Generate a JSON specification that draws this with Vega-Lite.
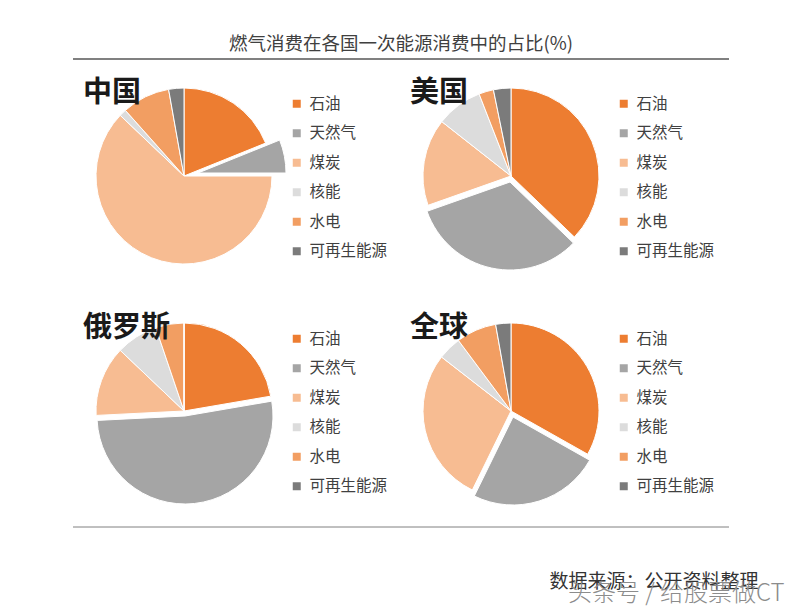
{
  "$schema": "https://vega.github.io/schema/vega-lite/v6.json",
  "background": "white",
  "padding": {"left": 72, "top": 34, "right": 0, "bottom": 0},
  "config": {
    "view": {"stroke": null},
    "font": "Noto Sans CJK SC",
    "legend": {
      "title": null, "orient": "right", "offset": -6, "padding": 0,
      "symbolType": "square", "symbolSize": 64, "symbolStrokeWidth": 0,
      "labelFontSize": 15.5, "labelColor": "#404040", "labelOffset": 5, "rowPadding": 12.5,
      "labelFont": "Noto Sans CJK SC"
    }
  },
  "datasets": {
    "energy": [
      {"country": "中国", "type": "石油", "share": 18.9},
      {"country": "中国", "type": "天然气", "share": 6.1},
      {"country": "中国", "type": "煤炭", "share": 62.1},
      {"country": "中国", "type": "核能", "share": 1.3},
      {"country": "中国", "type": "水电", "share": 8.8},
      {"country": "中国", "type": "可再生能源", "share": 2.8},
      {"country": "美国", "type": "石油", "share": 37.2},
      {"country": "美国", "type": "天然气", "share": 32.4},
      {"country": "美国", "type": "煤炭", "share": 16.0},
      {"country": "美国", "type": "核能", "share": 8.5},
      {"country": "美国", "type": "水电", "share": 2.7},
      {"country": "美国", "type": "可再生能源", "share": 3.2},
      {"country": "俄罗斯", "type": "石油", "share": 22.3},
      {"country": "俄罗斯", "type": "天然气", "share": 51.9},
      {"country": "俄罗斯", "type": "煤炭", "share": 12.9},
      {"country": "俄罗斯", "type": "核能", "share": 7.7},
      {"country": "俄罗斯", "type": "水电", "share": 5.2},
      {"country": "俄罗斯", "type": "可再生能源", "share": 0},
      {"country": "全球", "type": "石油", "share": 33.2},
      {"country": "全球", "type": "天然气", "share": 24.1},
      {"country": "全球", "type": "煤炭", "share": 28.3},
      {"country": "全球", "type": "核能", "share": 4.3},
      {"country": "全球", "type": "水电", "share": 7.4},
      {"country": "全球", "type": "可再生能源", "share": 2.8}
    ]
  },
  "title": {"text": "头条号 / 给股票做CT", "orient": "bottom", "anchor": "end", "dx": 26, "offset": -10, "fontSize": 24, "fontWeight": 300, "color": "#8c8c8c"},
  "spacing": 19,
  "resolve": {"scale": {"color": "independent"}, "legend": {"color": "independent"}},
  "vconcat": [
    {
      "width": 656, "height": 6,
      "data": {"values": [{}]},
      "title": {"text": "燃气消费在各国一次能源消费中的占比(%)", "fontSize": 18.5, "fontWeight": "normal", "color": "#404040", "anchor": "middle", "offset": 0},
      "mark": {"type": "rule", "color": "#808080", "strokeWidth": 2},
      "encoding": {"y": {"datum": 0, "type": "quantitative", "scale": {"domain": [0, 1]}, "axis": null}}
    },
    {
      "bounds": "flush",
      "columns": 2,
      "spacing": {"row": 75, "column": 105},
      "resolve": {"scale": {"color": "independent"}, "legend": {"color": "independent"}},
      "concat": [
        {
          "width": 222, "height": 160,
          "data": {"name": "energy"},
          "title": {"text": "中国", "anchor": "start", "frame": "group", "fontSize": 29, "fontWeight": "bold", "color": "#1a1a1a", "dx": 10, "offset": -22},
          "transform": [
            {"filter": "datum.country === '中国'"},
            {"calculate": "indexof(['石油','天然气','煤炭','核能','水电','可再生能源'], datum.type)", "as": "k"},
            {"stack": "share", "groupby": [], "sort": [{"field": "k"}], "offset": "normalize", "as": ["t0", "t1"]}
          ],
          "encoding": {
            "theta": {"field": "t0", "type": "quantitative", "stack": null, "scale": {"domain": [0, 1]}},
            "theta2": {"field": "t1"},
            "color": {"field": "type", "type": "nominal", "scale": {"domain": ["石油","天然气","煤炭","核能","水电","可再生能源"], "range": ["#ED7D31","#A5A5A5","#F7BC92","#DCDCDC","#F29E62","#7B7B7B"]}}
          },
          "layer": [
            {"transform": [{"filter": "datum.type !== '天然气'"}], "mark": {"type": "arc", "outerRadius": 88, "stroke": "white", "strokeWidth": 1}},
            {"transform": [{"filter": "datum.type === '天然气'"}], "mark": {"type": "arc", "outerRadius": 88, "stroke": "white", "strokeWidth": 1, "xOffset": 14, "yOffset": -3}}
          ]
        },
        {
          "width": 222, "height": 160,
          "data": {"name": "energy"},
          "title": {"text": "美国", "anchor": "start", "frame": "group", "fontSize": 29, "fontWeight": "bold", "color": "#1a1a1a", "dx": 10, "offset": -22},
          "transform": [
            {"filter": "datum.country === '美国'"},
            {"calculate": "indexof(['石油','天然气','煤炭','核能','水电','可再生能源'], datum.type)", "as": "k"},
            {"stack": "share", "groupby": [], "sort": [{"field": "k"}], "offset": "normalize", "as": ["t0", "t1"]}
          ],
          "encoding": {
            "theta": {"field": "t0", "type": "quantitative", "stack": null, "scale": {"domain": [0, 1]}},
            "theta2": {"field": "t1"},
            "color": {"field": "type", "type": "nominal", "scale": {"domain": ["石油","天然气","煤炭","核能","水电","可再生能源"], "range": ["#ED7D31","#A5A5A5","#F7BC92","#DCDCDC","#F29E62","#7B7B7B"]}}
          },
          "layer": [
            {"transform": [{"filter": "datum.type !== '天然气'"}], "mark": {"type": "arc", "outerRadius": 88, "stroke": "white", "strokeWidth": 1}},
            {"transform": [{"filter": "datum.type === '天然气'"}], "mark": {"type": "arc", "outerRadius": 88, "stroke": "white", "strokeWidth": 1, "xOffset": -1, "yOffset": 6}}
          ]
        },
        {
          "width": 222, "height": 160,
          "data": {"name": "energy"},
          "title": {"text": "俄罗斯", "anchor": "start", "frame": "group", "fontSize": 29, "fontWeight": "bold", "color": "#1a1a1a", "dx": 10, "offset": -22},
          "transform": [
            {"filter": "datum.country === '俄罗斯'"},
            {"calculate": "indexof(['石油','天然气','煤炭','核能','水电','可再生能源'], datum.type)", "as": "k"},
            {"stack": "share", "groupby": [], "sort": [{"field": "k"}], "offset": "normalize", "as": ["t0", "t1"]}
          ],
          "encoding": {
            "theta": {"field": "t0", "type": "quantitative", "stack": null, "scale": {"domain": [0, 1]}},
            "theta2": {"field": "t1"},
            "color": {"field": "type", "type": "nominal", "scale": {"domain": ["石油","天然气","煤炭","核能","水电","可再生能源"], "range": ["#ED7D31","#A5A5A5","#F7BC92","#DCDCDC","#F29E62","#7B7B7B"]}}
          },
          "layer": [
            {"transform": [{"filter": "datum.type !== '天然气'"}], "mark": {"type": "arc", "outerRadius": 88, "stroke": "white", "strokeWidth": 1}},
            {"transform": [{"filter": "datum.type === '天然气'"}], "mark": {"type": "arc", "outerRadius": 88, "stroke": "white", "strokeWidth": 1, "xOffset": 1, "yOffset": 5}}
          ]
        },
        {
          "width": 222, "height": 160,
          "data": {"name": "energy"},
          "title": {"text": "全球", "anchor": "start", "frame": "group", "fontSize": 29, "fontWeight": "bold", "color": "#1a1a1a", "dx": 10, "offset": -22},
          "transform": [
            {"filter": "datum.country === '全球'"},
            {"calculate": "indexof(['石油','天然气','煤炭','核能','水电','可再生能源'], datum.type)", "as": "k"},
            {"stack": "share", "groupby": [], "sort": [{"field": "k"}], "offset": "normalize", "as": ["t0", "t1"]}
          ],
          "encoding": {
            "theta": {"field": "t0", "type": "quantitative", "stack": null, "scale": {"domain": [0, 1]}},
            "theta2": {"field": "t1"},
            "color": {"field": "type", "type": "nominal", "scale": {"domain": ["石油","天然气","煤炭","核能","水电","可再生能源"], "range": ["#ED7D31","#A5A5A5","#F7BC92","#DCDCDC","#F29E62","#7B7B7B"]}}
          },
          "layer": [
            {"transform": [{"filter": "datum.type !== '天然气'"}], "mark": {"type": "arc", "outerRadius": 88, "stroke": "white", "strokeWidth": 1}},
            {"transform": [{"filter": "datum.type === '天然气'"}], "mark": {"type": "arc", "outerRadius": 88, "stroke": "white", "strokeWidth": 1, "xOffset": 2, "yOffset": 6}}
          ]
        }
      ]
    },
    {
      "width": 656, "height": 10,
      "data": {"values": [{}]},
      "title": {"text": "数据来源：公开资料整理", "orient": "bottom", "anchor": "end", "dx": 29, "offset": 33, "fontSize": 19, "fontWeight": "normal", "color": "#333333"},
      "mark": {"type": "rule", "color": "#808080", "strokeWidth": 1, "yOffset": -3},
      "encoding": {"y": {"datum": 1, "type": "quantitative", "scale": {"domain": [0, 1]}, "axis": null}}
    }
  ]
}
